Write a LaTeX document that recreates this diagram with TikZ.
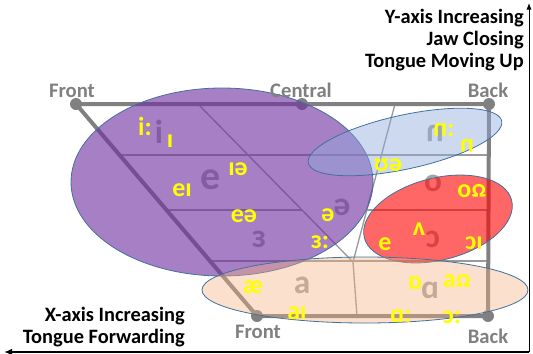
\documentclass[tikz,border=0pt]{standalone}
\usepackage{fontspec}
\setmainfont{Carlito}
\usetikzlibrary{arrows.meta}
\definecolor{chartgray}{HTML}{808080}
\definecolor{gridgray}{HTML}{9A9A9A}
\definecolor{lettergray}{HTML}{A6A6A6}
\definecolor{vpurple}{HTML}{7030A0}
\definecolor{vblue}{HTML}{8FAADC}
\definecolor{vred}{HTML}{FF0000}
\definecolor{vpeach}{HTML}{F4B183}
\definecolor{rim}{HTML}{41719C}
\definecolor{ipayellow}{HTML}{FFFF00}
% a glyph turned upside down, kept on the baseline
\newcommand\turnglyph[1]{\raisebox{1ex}{\scalebox{1}[-1]{#1}}}

\begin{document}
\begin{tikzpicture}[x=0.75pt,y=-0.75pt,
  grid/.style={draw=gridgray,line width=1pt},
  frameline/.style={draw=chartgray,line width=3pt},
  dot/.style={circle,fill=chartgray,inner sep=0pt,minimum size=9pt},
  poslabel/.style={font=\bfseries\fontsize{15.5}{16}\selectfont,text=chartgray,inner sep=0pt},
  axislabel/.style={font=\bfseries\fontsize{15.3}{16}\selectfont,text=black,inner sep=0pt,anchor=east},
  ipa/.style={font=\bfseries\fontsize{19.5}{20}\selectfont,text=ipayellow,inner sep=0pt},
  bigipa/.style={font=\bfseries\fontsize{25}{25}\selectfont,text=lettergray,inner sep=0pt},
  region/.style={draw=rim,line width=0.6pt}
]
\useasboundingbox (0,0) rectangle (533,354);

% corner points of the vowel chart
\coordinate (FT) at (76,104);
\coordinate (CT) at (302,104);
\coordinate (BT) at (489,104);
\coordinate (FB) at (257,316);
\coordinate (BB) at (488,316);
% inner grid points
\coordinate (d1t) at (198,104);
\coordinate (mid) at (353,262);
\coordinate (c2t) at (395,104);
\coordinate (cb) at (357,316);
\coordinate (h1l) at (119.5,155);
\coordinate (h1r) at (489,155);
\coordinate (h2l) at (166.5,210);
\coordinate (h2m) at (302,210);
\coordinate (h2n) at (367,210);
\coordinate (h2r) at (489,210);
\coordinate (h3l) at (210,261);
\coordinate (h3r) at (489,261);

% inner grid
\draw[grid] (h1l) -- (h1r);
\draw[grid] (h2l) -- (h2m);
\draw[grid] (h2n) -- (h2r);
\draw[grid] (h3l) -- (h3r);
\draw[grid] (d1t) -- (mid);
\draw[grid] (c2t) -- (mid);
\draw[grid] (mid) -- (cb);

% outer trapezoid
\draw[frameline] (FT) -- (BT) -- (BB) -- (FB) -- cycle;
\node[dot] (dFT) at (FT) {};
\node[dot] (dCT) at (CT) {};
\node[dot] (dBT) at (BT) {};
\node[dot] (dFB) at (FB) {};
\node[dot] (dBB) at (BB) {};

% monophthongs in gray
\node[bigipa] (bi) at (159,132) {i};
\node[bigipa,font=\bfseries\fontsize{30}{30}\selectfont] (be) at (211,180) {e};
\node[bigipa] (beps) at (259,239) {ɜ};
\node[bigipa] (bsch) at (342,207) {ə};
\node[bigipa] (bu) at (435,133) {\turnglyph{u}};
\node[bigipa] (bo) at (433,183) {o};
\node[bigipa] (bopen) at (433,239) {ɔ};
\node[bigipa] (ba) at (302,285) {a};
\node[bigipa] (balpha) at (430,290) {ɑ};

% vowel regions
\path[region,fill=vpurple,fill opacity=0.62] (222,182) ellipse [x radius=151,y radius=94];
\path[region,fill=vblue,fill opacity=0.45,rotate around={12.3:(405,142)}] (405,142) ellipse [x radius=99,y radius=27];
\path[region,fill=vred,fill opacity=0.6,rotate around={14.3:(438,219)}] (438,219) ellipse [x radius=76,y radius=41];
\path[region,fill=vpeach,fill opacity=0.4] (365,290) ellipse [x radius=163,y radius=33];

% English vowels in yellow
\node[ipa] (ii) at (145,126) {i:};
\node[ipa] (iI) at (170,141) {ɪ};
\node[ipa] (Ie) at (238,169) {ɪə};
\node[ipa] (eI) at (182,190) {eɪ};
\node[ipa] (ee) at (244,216) {eə};
\node[ipa] (sch) at (328,215) {ə};
\node[ipa] (er) at (320,242) {ɜ:};
\node[ipa] (Ue) at (388,165) {ʊə};
\node[ipa] (uu) at (444,130) {\turnglyph{u}:};
\node[ipa] (us) at (467,146) {\turnglyph{u}};
\node[ipa] (oU) at (472,191) {o\turnglyph{ʊ}};
\node[ipa] (vv) at (419,229) {ʌ};
\node[ipa] (ev) at (385,244) {e};
\node[ipa] (oI) at (474,243) {ɔɪ};
\node[ipa] (ae) at (253,287) {æ};
\node[ipa] (aI) at (297,313) {aɪ};
\node[ipa] (ob) at (415,283) {ɒ};
\node[ipa] (aU) at (457,281) {a\turnglyph{ʊ}};
\node[ipa] (aa) at (401,316) {ɑ:};
\node[ipa] (oo) at (452,317) {ɔ:};

% chart position labels
\node[poslabel] (lFT) at (72,91) {Front};
\node[poslabel] (lCT) at (301,90) {Central};
\node[poslabel] (lBT) at (488,90) {Back};
\node[poslabel] (lFB) at (258,332) {Front};
\node[poslabel] (lBB) at (488,336) {Back};

% axes
\coordinate (origin) at (529,352);
\coordinate (ytip) at (529,3);
\coordinate (xtip) at (4,352);
\draw[black,line width=0.75pt,-{Latex[length=5pt,width=4pt]}] (origin) -- (ytip);
\draw[black,line width=1.5pt,-{Latex[length=6pt,width=5pt]}] (origin) -- (xtip);

\node[axislabel] (y1) at (524,18) {Y-axis Increasing};
\node[axislabel] (y2) at (524,40) {Jaw Closing};
\node[axislabel] (y3) at (524,62) {Tongue Moving Up};
\node[axislabel] (x1) at (185,316) {X-axis Increasing};
\node[axislabel] (x2) at (185,338) {Tongue Forwarding};
\end{tikzpicture}
\end{document}
